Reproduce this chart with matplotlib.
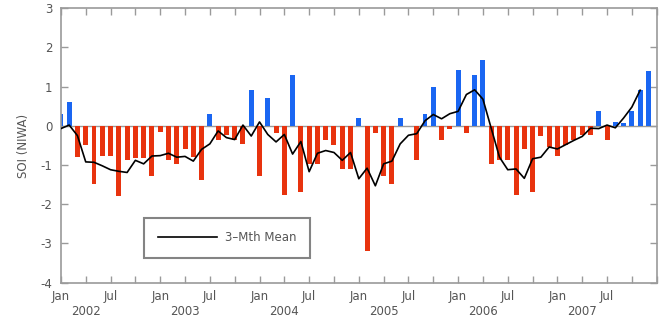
import matplotlib
matplotlib.use('Agg')
import matplotlib.pyplot as plt
import numpy as npy

# monthly SOI (NIWA), Jan 2002 - Dec 2007
soi_2002 = [0.30, 0.60, -0.79, -0.48, -1.49, -0.77, -0.77, -1.79, -0.88, -0.83, -0.83, -1.28]
soi_2003 = [-0.15, -0.88, -0.98, -0.60, -0.79, -1.37, 0.30, -0.37, -0.24, -0.35, -0.47, 0.91]
soi_2004 = [-1.28, 0.70, -0.17, -1.77, 1.29, -1.70, -0.98, -0.98, -0.37, -0.49, -1.09, -1.09]
soi_2005 = [0.19, -3.19, -0.17, -1.28, -1.49, 0.19, 0.0, -0.88, 0.30, 0.98, -0.37, -0.09]
soi_2006 = [1.42, -0.17, 1.29, 1.68, -0.98, -0.86, -0.86, -1.77, -0.58, -1.70, -0.27, -0.55]
soi_2007 = [-0.77, -0.49, -0.37, -0.24, -0.24, 0.37, -0.37, 0.10, 0.08, 0.37, 0.92, 1.40]

# 3-month mean, Jan 2002 - Nov 2007
mean_3mth = [-0.07, 0.02, -0.25, -0.92, -0.93, -1.02, -1.12, -1.16, -1.19, -0.88, -0.97, -0.77,
             -0.76, -0.70, -0.80, -0.78, -0.90, -0.60, -0.46, -0.13, -0.30, -0.35, 0.02, -0.26,
             0.10, -0.22, -0.41, -0.22, -0.72, -0.40, -1.17, -0.70, -0.63, -0.68, -0.88, -0.68,
             -1.35, -1.08, -1.53, -0.97, -0.90, -0.46, -0.24, -0.20, 0.13, 0.29, 0.18, 0.31,
             0.37, 0.80, 0.92, 0.68, -0.06, -0.80, -1.12, -1.10, -1.34, -0.84, -0.80, -0.54,
             -0.59, -0.48, -0.37, -0.27, -0.06, -0.07, 0.02, -0.05, 0.20, 0.48, 0.91]

years = ['2002', '2003', '2004', '2005', '2006', '2007']
month_labels = ['Jan', 'Jul']

plt.rcParams['axes.unicode_minus'] = False

soi = npy.array(soi_2002 + soi_2003 + soi_2004 + soi_2005 + soi_2006 + soi_2007)
months = npy.arange(len(soi))
colors = npy.where(soi >= 0, '#1a66f2', '#e8330e')

grey = '#9a9a9a'
txt = '#555555'

fig = plt.figure(figsize=(6.62, 3.2), dpi=100)
ax = fig.add_axes([0.092, 0.117, 0.900, 0.857])

ax.axhline(0, color=grey, lw=1.0, zorder=1)
ax.bar(months, soi, width=0.6, color=colors, zorder=2)
ax.plot(npy.arange(len(mean_3mth)), mean_3mth, color='black', lw=1.2, zorder=3, label='3\u2013Mth Mean')

ax.set_xlim(0, 72)
ax.set_ylim(-4, 3)
ax.set_yticks(range(-4, 4))
ax.set_xticks(range(0, 73, 3))
xlabels = []
for m in range(0, 73, 3):
    if m % 6 == 0 and m < 72:
        xlabels.append(month_labels[(m // 6) % 2])
    else:
        xlabels.append('')
ax.set_xticklabels(xlabels)

for k, yr in enumerate(years):
    ax.text(3 + 12 * k, -0.105, yr, transform=ax.get_xaxis_transform(),
            ha='center', va='center', fontsize=8.5, color=txt)

ax.tick_params(direction='in', length=5, width=1, color=grey, labelcolor=txt,
               labelsize=8.5, top=True, right=True)
ax.tick_params(axis='x', pad=5)
ax.tick_params(axis='y', pad=6)
for s in ax.spines.values():
    s.set_color(grey)
    s.set_linewidth(1.2)

ax.set_ylabel('SOI (NIWA)', fontsize=8.5, color=txt, labelpad=8)

leg = ax.legend(loc='lower left', bbox_to_anchor=(0.13, 0.068), fontsize=8.5,
                fancybox=False, frameon=True, handlelength=5.0, borderpad=1.15,
                handletextpad=0.7)
leg.get_frame().set_edgecolor('#666666')
leg.get_frame().set_linewidth(1.5)
for t in leg.get_texts():
    t.set_color(txt)

plt.savefig('out.png', dpi=100)
